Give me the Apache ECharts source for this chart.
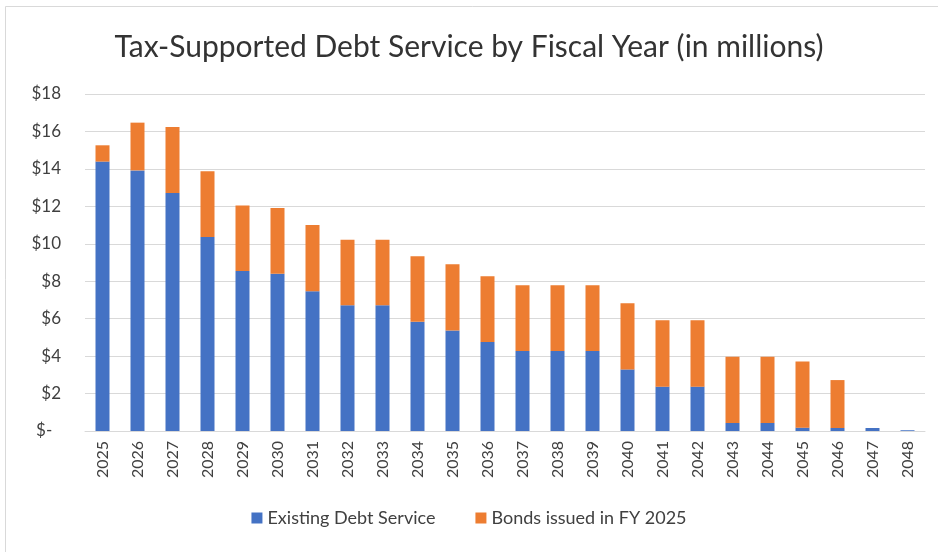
<!DOCTYPE html>
<html><head><meta charset="utf-8">
<script src="https://cdn.jsdelivr.net/npm/echarts@6/dist/echarts.min.js"></script>
<style>html,body{margin:0;padding:0;background:#fff;}#c{width:938px;height:552px;}</style>
</head><body><div id="c"></div>
<script>
const years = ['2025','2026','2027','2028','2029','2030','2031','2032','2033','2034','2035','2036','2037','2038','2039','2040','2041','2042','2043','2044','2045','2046','2047','2048'];
const existingDebt = [14.39,13.92,12.71,10.36,8.54,8.40,7.47,6.71,6.71,5.84,5.37,4.75,4.27,4.27,4.27,3.29,2.37,2.37,0.43,0.43,0.18,0.16,0.16,0.04];
const bondsFY2025 = [0.87,2.55,3.53,3.51,3.51,3.51,3.53,3.50,3.50,3.50,3.54,3.52,3.51,3.51,3.51,3.53,3.54,3.54,3.53,3.53,3.53,2.56,0,0];
const yTicks = [0,2,4,6,8,10,12,14,16,18];
const FONT = 'Lato';
const chart = echarts.init(document.getElementById('c'));
chart.setOption({
  animation:false,
  backgroundColor:'#fff',
  textStyle:{fontFamily:FONT},
  title:{text:'Tax-Supported Debt Service by Fiscal Year (in millions)',left:'center',top:27,
    textStyle:{fontFamily:FONT,fontSize:30,fontWeight:'normal',color:'#333333'}},
  graphic:[{type:'rect',shape:{x:5.5,y:6.5,width:940,height:560},style:{fill:'none',stroke:'#d9d9d9',lineWidth:1},silent:true,z:-1}],
  legend:{bottom:20,left:'center',itemWidth:11,itemHeight:11,itemGap:40,icon:'rect',
    textStyle:{fontFamily:FONT,fontSize:18,color:'#404040'},
    data:['Existing Debt Service','Bonds issued in FY 2025']},
  grid:{left:85,right:13,top:94,bottom:121,containLabel:false},
  xAxis:{type:'category',data:years,
    axisLine:{lineStyle:{color:'#d9d9d9',width:1}},axisTick:{show:false},
    axisLabel:{rotate:90,fontSize:16,color:'#404040',margin:10,fontFamily:FONT}},
  yAxis:{type:'value',min:yTicks[0],max:yTicks[yTicks.length-1],interval:2,
    axisLine:{show:false},axisTick:{show:false},
    splitLine:{lineStyle:{color:'#d9d9d9',width:1}},
    axisLabel:{fontSize:17,color:'#404040',margin:24,fontFamily:FONT,
      formatter:v=> v===0 ? '$-  ' : '$'+v}},
  series:[
    {name:'Existing Debt Service',type:'bar',stack:'t',data:existingDebt,barWidth:'40%',
      itemStyle:{color:'#4472c4'}},
    {name:'Bonds issued in FY 2025',type:'bar',stack:'t',data:bondsFY2025,barWidth:'40%',
      itemStyle:{color:'#ed7d31'}}
  ]
});
</script></body></html>
